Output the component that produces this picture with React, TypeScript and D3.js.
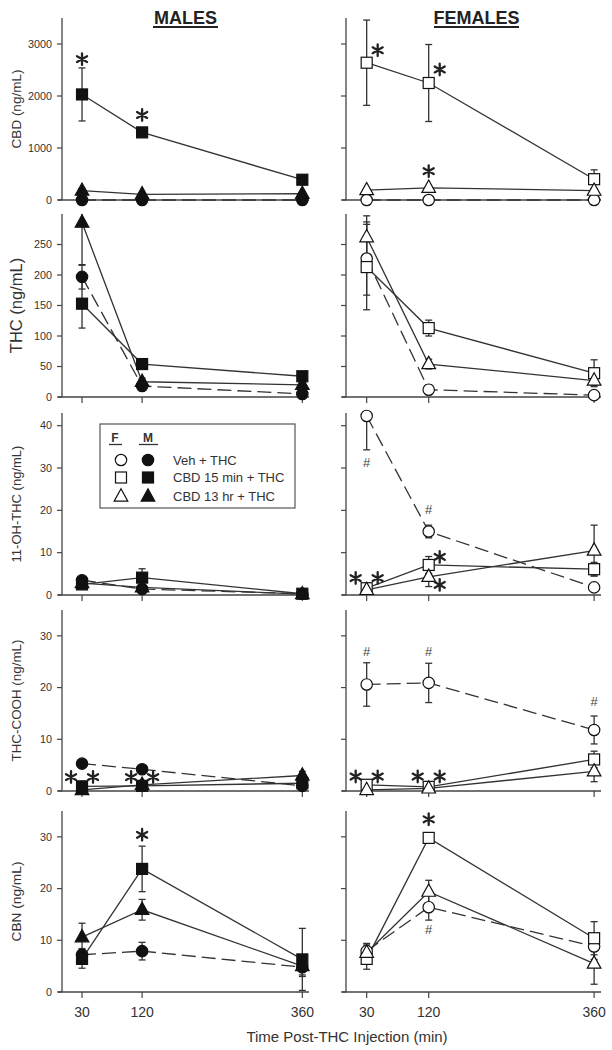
import * as d3 from "d3";

// sampling times (min after THC)
const times = [30, 120, 360];
const tickTimes = [30, 120, 360];

// [mean, sem] at 30, 120, 360 min
const cbdM = {
  veh: [[0, 0], [0, 0], [0, 0]],
  cbd15: [[2030, 510], [1300, 50], [390, 40]],
  cbd13: [[180, 40], [110, 20], [120, 30]],
};
const cbdF = {
  veh: [[0, 0], [0, 0], [0, 0]],
  cbd15: [[2640, 820], [2250, 740], [400, 180]],
  cbd13: [[190, 30], [235, 30], [180, 30]],
};
const thcM = {
  veh: [[197, 20], [18, 5], [5, 2]],
  cbd15: [[153, 40], [54, 6], [34, 5]],
  cbd13: [[286, 70], [25, 6], [20, 4]],
};
const thcF = {
  veh: [[227, 60], [12, 8], [3, 2]],
  cbd15: [[213, 70], [113, 13], [39, 22]],
  cbd13: [[262, 35], [54, 8], [27, 8]],
};
const ohM = {
  veh: [[3.5, 0.8], [1.4, 0.4], [0.3, 0.1]],
  cbd15: [[2.5, 0.6], [4.1, 2.1], [0.3, 0.1]],
  cbd13: [[2.8, 0.6], [1.8, 0.4], [0.2, 0.1]],
};
const ohF = {
  veh: [[42.3, 8], [15, 1.5], [1.8, 0.5]],
  cbd15: [[1.6, 0.4], [7.1, 2], [6.1, 1.6]],
  cbd13: [[1.2, 0.3], [4.3, 2.3], [10.5, 6]],
};
const coohM = {
  veh: [[5.3, 0.5], [4.2, 0.6], [1.0, 0.3]],
  cbd15: [[0.9, 0.3], [1.0, 0.3], [1.5, 0.5]],
  cbd13: [[0.2, 0.1], [1.2, 0.3], [3.0, 0.8]],
};
const coohF = {
  veh: [[20.6, 4.2], [20.9, 3.8], [11.8, 2.7]],
  cbd15: [[1.2, 0.3], [0.8, 0.2], [6.1, 1.6]],
  cbd13: [[0.2, 0.1], [0.5, 0.2], [3.8, 2]],
};
const cbnM = {
  veh: [[7.2, 1.2], [7.9, 1.7], [4.8, 1.5]],
  cbd15: [[6.4, 1.8], [23.8, 4.4], [6.3, 6]],
  cbd13: [[10.6, 2.7], [15.9, 2], [5, 2]],
};
const cbnF = {
  veh: [[7.9, 1.5], [16.4, 2.5], [8.8, 2.5]],
  cbd15: [[6.4, 2], [29.8, 1], [10.4, 3.2]],
  cbd13: [[7.6, 1.5], [19.4, 2.2], [5.5, 4]],
};

// significance marks: time index, value where the mark sits, side
const cbdMNotes = [{ i: 0, v: 2710, s: "*", side: 0 }, { i: 1, v: 1635, s: "*", side: 0 }];
const cbdFNotes = [
  { i: 0, v: 2880, s: "*", side: 1 },
  { i: 1, v: 2510, s: "*", side: 1 },
  { i: 1, v: 555, s: "*", side: 0 },
];
const ohFNotes = [
  { i: 0, v: 31.2, s: "#", side: 0 },
  { i: 1, v: 20.1, s: "#", side: 0 },
  { i: 0, v: 4, s: "*", side: -1 },
  { i: 0, v: 4, s: "*", side: 1 },
  { i: 1, v: 9, s: "*", side: 1 },
  { i: 1, v: 2.4, s: "*", side: 1 },
];
const coohMNotes = [
  { i: 0, v: 2.7, s: "*", side: -1 },
  { i: 0, v: 2.7, s: "*", side: 1 },
  { i: 1, v: 2.7, s: "*", side: -1 },
  { i: 1, v: 2.7, s: "*", side: 1 },
];
const coohFNotes = [
  { i: 0, v: 26.9, s: "#", side: 0 },
  { i: 1, v: 26.9, s: "#", side: 0 },
  { i: 2, v: 17.3, s: "#", side: 0 },
  { i: 0, v: 2.8, s: "*", side: -1 },
  { i: 0, v: 2.8, s: "*", side: 1 },
  { i: 1, v: 2.8, s: "*", side: -1 },
  { i: 1, v: 2.8, s: "*", side: 1 },
];
const cbnMNotes = [{ i: 1, v: 30.4, s: "*", side: 0 }];
const cbnFNotes = [
  { i: 1, v: 33.4, s: "*", side: 0 },
  { i: 1, v: 12.1, s: "#", side: 0 },
];

const groups = ["veh", "cbd15", "cbd13"];
const shapes = ["circle", "square", "triangle"];
const legendLabels = ["Veh + THC", "CBD 15 min + THC", "CBD 13 hr + THC"];

const panels = [
  { label: "CBD (ng/mL)", fs: 13.5, max: 3500, ticks: [0, 1000, 2000, 3000], top: 18, bottom: 200, m: cbdM, f: cbdF, nm: cbdMNotes, nf: cbdFNotes },
  { label: "THC (ng/mL)", fs: 16.5, max: 300, ticks: [0, 50, 100, 150, 200, 250], top: 214, bottom: 397, m: thcM, f: thcF, nm: [], nf: [] },
  { label: "11-OH-THC (ng/mL)", fs: 13, max: 43, ticks: [0, 10, 20, 30, 40], top: 413, bottom: 595, m: ohM, f: ohF, nm: [], nf: ohFNotes },
  { label: "THC-COOH (ng/mL)", fs: 13.4, max: 35, ticks: [0, 10, 20, 30], top: 610, bottom: 791, m: coohM, f: coohF, nm: coohMNotes, nf: coohFNotes },
  { label: "CBN (ng/mL)", fs: 13.7, max: 35, ticks: [0, 10, 20, 30], top: 811, bottom: 992, m: cbnM, f: cbnF, nm: cbnMNotes, nf: cbnFNotes },
];

const INK = "#111";
const LINE = "#333";
const AXIS = "#444";
const TEXT = "#333";
const FONT = "Liberation Sans, Arial, sans-serif";

const xLeft = d3.scaleLinear().domain([0, 370]).range([62, 309]);
const xRight = d3.scaleLinear().domain([0, 370]).range([346, 601]);

function Marker({ shape, filled, x, y }: { shape: string; filled: boolean; x: number; y: number }) {
  const fill = filled ? INK : "#fff";
  if (shape === "circle") return <circle cx={x} cy={y} r={5.7} fill={fill} stroke={INK} strokeWidth={1.2} />;
  if (shape === "square") return <rect x={x - 5.5} y={y - 5.5} width={11} height={11} fill={fill} stroke={INK} strokeWidth={1.2} />;
  return <path d={`M${x},${y - 7.7}L${x + 6.8},${y + 4.6}L${x - 6.8},${y + 4.6}Z`} fill={fill} stroke={INK} strokeWidth={1.2} />;
}

function Star({ x, y }: { x: number; y: number }) {
  const r = 5.8;
  const arms = [90, 30, 150].map((a) => {
    const t = (a * Math.PI) / 180;
    return `M${x - r * Math.cos(t)},${y - r * Math.sin(t)}L${x + r * Math.cos(t)},${y + r * Math.sin(t)}`;
  });
  return <path d={arms.join("")} stroke="#222" strokeWidth={2.3} strokeLinecap="round" />;
}

function Panel({ p, data, notes, x, female, showLabels, bottomRow }: any) {
  const y = d3.scaleLinear().domain([0, p.max]).range([p.bottom, p.top]);
  const x0 = x.range()[0];
  const x1 = x.range()[1];
  const line = d3
    .line<number[]>()
    .x((_, i) => x(times[i]))
    .y((d) => y(d[0]));
  return (
    <g>
      {/* axes */}
      <line x1={x0} x2={x0} y1={p.top} y2={p.bottom} stroke={AXIS} strokeWidth={1.3} />
      <line x1={x0 - 4} x2={x1} y1={p.bottom} y2={p.bottom} stroke={AXIS} strokeWidth={1.3} />
      {p.ticks.map((t: number) => (
        <g key={t}>
          <line x1={x0 - 5} x2={x0} y1={y(t)} y2={y(t)} stroke={AXIS} strokeWidth={1.2} />
          {showLabels && (
            <text x={x0 - 10} y={y(t)} dy="0.35em" textAnchor="end" fontSize={10.8} fill={TEXT} fontFamily={FONT}>
              {t}
            </text>
          )}
        </g>
      ))}
      {tickTimes.map((t) => (
        <g key={t}>
          <line x1={x(t)} x2={x(t)} y1={p.bottom} y2={p.bottom + 6} stroke={AXIS} strokeWidth={1.2} />
          {bottomRow && (
            <text x={x(t)} y={p.bottom + 25} textAnchor="middle" fontSize={14} fill={TEXT} fontFamily={FONT}>
              {t}
            </text>
          )}
        </g>
      ))}
      {showLabels && (
        <text
          transform={`translate(16,${(p.top + p.bottom) / 2}) rotate(-90)`}
          textAnchor="middle"
          dominantBaseline="central"
          fontSize={p.fs}
          fill={TEXT}
          fontFamily={FONT}
        >
          {p.label}
        </text>
      )}
      {/* connecting lines */}
      {groups.map((g, k) => (
        <path
          key={g}
          d={line(data[g]) || ""}
          fill="none"
          stroke={LINE}
          strokeWidth={1.3}
          strokeDasharray={k === 0 ? "14,6" : undefined}
        />
      ))}
      {/* error bars */}
      {groups.map((g) =>
        data[g].map((d: number[], i: number) => {
          if (d[1] <= 0) return null;
          const cx = x(times[i]);
          const hi = y(Math.min(p.max, d[0] + d[1]));
          const lo = y(Math.max(0, d[0] - d[1]));
          return (
            <g key={g + i} stroke={LINE} strokeWidth={1.3}>
              <line x1={cx} x2={cx} y1={hi} y2={lo} />
              {d[0] + d[1] <= p.max && <line x1={cx - 3.5} x2={cx + 3.5} y1={hi} y2={hi} />}
              <line x1={cx - 3.5} x2={cx + 3.5} y1={lo} y2={lo} />
            </g>
          );
        })
      )}
      {/* markers */}
      {groups.map((g, k) =>
        data[g].map((d: number[], i: number) => (
          <Marker key={g + i} shape={shapes[k]} filled={!female} x={x(times[i])} y={y(d[0])} />
        ))
      )}
      {/* significance marks */}
      {notes.map((n: any, j: number) => {
        const cx = x(times[n.i]) + n.side * 11;
        const cy = y(n.v);
        return n.s === "*" ? (
          <Star key={j} x={cx} y={cy} />
        ) : (
          <text key={j} x={cx} y={cy} dy="0.35em" textAnchor="middle" fontSize={13} fill="#444" fontFamily={FONT}>
            #
          </text>
        );
      })}
    </g>
  );
}

function Legend() {
  const rows = [460, 477.5, 496.5];
  return (
    <g fontFamily={FONT} fill={TEXT}>
      <rect x={100} y={424} width={195} height={84} fill="#fff" stroke="#555" strokeWidth={1.2} />
      <text x={115} y={442} textAnchor="middle" fontSize={12} fontWeight="bold">F</text>
      <text x={148} y={442} textAnchor="middle" fontSize={12} fontWeight="bold">M</text>
      <line x1={109} x2={122} y1={444.5} y2={444.5} stroke={TEXT} strokeWidth={1.3} />
      <line x1={139} x2={158} y1={444.5} y2={444.5} stroke={TEXT} strokeWidth={1.3} />
      {legendLabels.map((l, k) => (
        <g key={l}>
          <Marker shape={shapes[k]} filled={false} x={121} y={rows[k]} />
          <Marker shape={shapes[k]} filled={true} x={148} y={rows[k]} />
          <text x={173} y={rows[k] + 4.5} fontSize={13}>
            {l}
          </text>
        </g>
      ))}
    </g>
  );
}

export default function App() {
  return (
    <svg
      width={612}
      height={1050}
      style={{ position: "absolute", left: 0, top: 0, background: "#fff" }}
    >
      <rect width={612} height={1050} fill="#fff" />
      <text x={185.5} y={23.5} textAnchor="middle" fontSize={18} fontWeight="bold" fill="#222" fontFamily={FONT}>
        MALES
      </text>
      <line x1={153} x2={218} y1={27} y2={27} stroke="#222" strokeWidth={2} />
      <text x={476.5} y={23.5} textAnchor="middle" fontSize={18} fontWeight="bold" fill="#222" fontFamily={FONT}>
        FEMALES
      </text>
      <line x1={434} x2={519} y1={27} y2={27} stroke="#222" strokeWidth={2} />
      {panels.map((p, r) => (
        <g key={p.label}>
          <Panel p={p} data={p.m} notes={p.nm} x={xLeft} female={false} showLabels bottomRow={r === 4} />
          <Panel p={p} data={p.f} notes={p.nf} x={xRight} female showLabels={false} bottomRow={r === 4} />
        </g>
      ))}
      <Legend />
      <text x={347} y={1042} textAnchor="middle" fontSize={15} fill={TEXT} fontFamily={FONT}>
        Time Post-THC Injection (min)
      </text>
    </svg>
  );
}
